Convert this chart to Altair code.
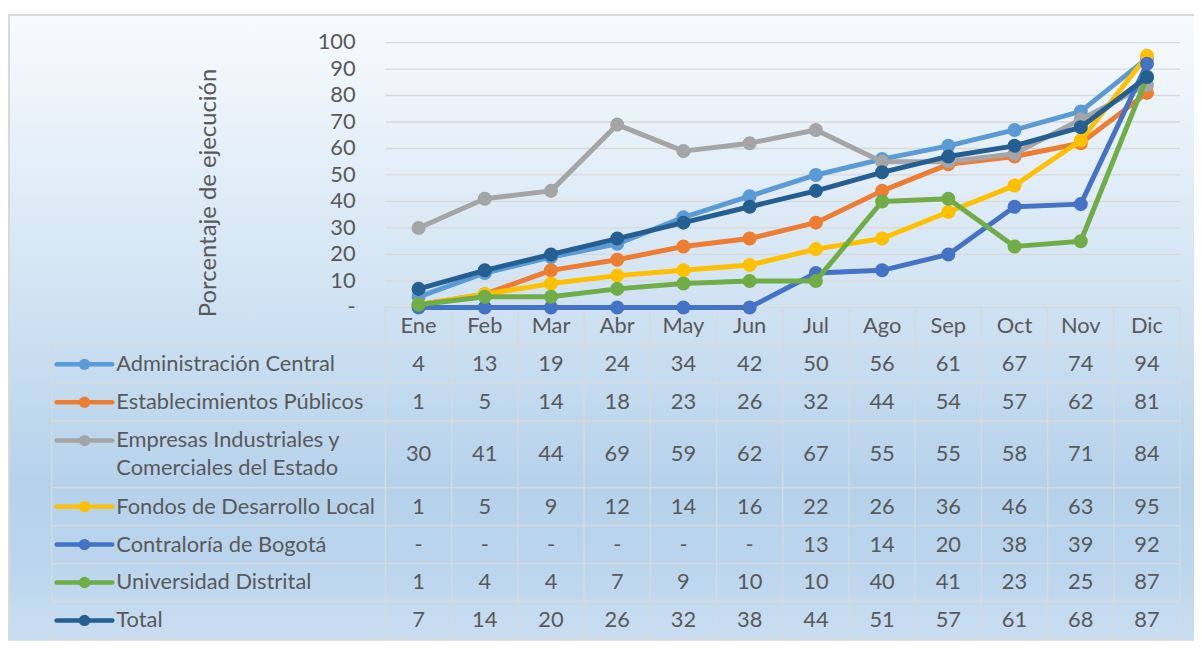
import altair as alt
import pandas as pd

# ---------------- data ----------------
months = ["Ene", "Feb", "Mar", "Abr", "May", "Jun", "Jul", "Ago", "Sep", "Oct", "Nov", "Dic"]
series_names = [
    "Administración Central",
    "Establecimientos Públicos",
    "Empresas Industriales y Comerciales del Estado",
    "Fondos de Desarrollo Local",
    "Contraloría de Bogotá",
    "Universidad Distrital",
    "Total",
]
legend_lines = [
    ["Administración Central"],
    ["Establecimientos Públicos"],
    ["Empresas Industriales y", "Comerciales del Estado"],
    ["Fondos de Desarrollo Local"],
    ["Contraloría de Bogotá"],
    ["Universidad Distrital"],
    ["Total"],
]
admin = [4, 13, 19, 24, 34, 42, 50, 56, 61, 67, 74, 94]
estab = [1, 5, 14, 18, 23, 26, 32, 44, 54, 57, 62, 81]
empresas = [30, 41, 44, 69, 59, 62, 67, 55, 55, 58, 71, 84]
fondos = [1, 5, 9, 12, 14, 16, 22, 26, 36, 46, 63, 95]
contraloria = [0, 0, 0, 0, 0, 0, 13, 14, 20, 38, 39, 92]
universidad = [1, 4, 4, 7, 9, 10, 10, 40, 41, 23, 25, 87]
total = [7, 14, 20, 26, 32, 38, 44, 51, 57, 61, 68, 87]
values = [admin, estab, empresas, fondos, contraloria, universidad, total]
series_colors = ["#5B9BD5", "#ED7D31", "#A5A5A5", "#FFC000", "#4472C4", "#70AD47", "#255E91"]
y_ticks = list(range(0, 101, 10))
y_tick_labels = ["-" if t == 0 else str(t) for t in y_ticks]
axis_title = "Porcentaje de ejecución"

# ---------------- layout (pixels) ----------------
W, H = 1194, 630
PLOT_L, PLOT_T = 8, 12
COL_PX = 800 / 12
X0 = 388.0          # left edge of the first month column
Y0 = 307.3          # pixel row of value 0
PPV = 2.6667        # pixels per percentage point
ROW_PX = 38.2
TALL = 1.75
LINE_H = 28
TABLE_L = 52
SYM_A, SYM_B, SYM_DOT, TXT_X = 57, 113, 85, 117
TICK_X = 358
TITLE_X, TITLE_Y = 210, 192
FONT = "Lato"
FS = 22
TEXT_C = "#595959"
GRID_C = "#D9D9D9"


def xu(px):
    return (px - X0) / COL_PX


def yv(px):
    return (Y0 - px) / PPV


xlo, xhi = xu(PLOT_L), xu(PLOT_L + W)
vhi, vlo = yv(PLOT_T), yv(PLOT_T + H)
XS = alt.Scale(domain=[xlo, xhi], nice=False, zero=False)
YS = alt.Scale(domain=[vlo, vhi], nice=False, zero=False)


def X(f="x"):
    return alt.X(f"{f}:Q", scale=XS, axis=None)


def Y(f="y"):
    return alt.Y(f"{f}:Q", scale=YS, axis=None)


# row geometry
bounds = [Y0, Y0 + ROW_PX]
for lines in legend_lines:
    bounds.append(bounds[-1] + ROW_PX * (TALL if len(lines) > 1 else 1))
bottom = bounds[-1]

# ---------------- background ----------------
bg_df = pd.DataFrame({"x": [xlo], "x2": [xhi], "y": [vlo], "y2": [vhi]})
bg = alt.Chart(bg_df).mark_rect(
    fill=alt.Gradient(
        gradient="linear",
        stops=[
            alt.GradientStop(offset=0.0, color="#F8FBFE"),
            alt.GradientStop(offset=0.45, color="#D1E3F3"),
            alt.GradientStop(offset=0.75, color="#B6D2EB"),
            alt.GradientStop(offset=0.88, color="#BAD5ED"),
            alt.GradientStop(offset=1.0, color="#CADEF2"),
        ],
        x1=0, x2=0, y1=0, y2=1,
    )
).encode(x=X(), x2="x2:Q", y=Y(), y2="y2:Q")

frame_df = pd.DataFrame({"x": [xlo], "x2": [xhi], "y": [yv(PLOT_T + 1)]})
frame_top = alt.Chart(frame_df).mark_rule(color="#D9D9D9", strokeWidth=2).encode(
    x=X(), x2="x2:Q", y=Y())
frame_l_df = pd.DataFrame({"x": [xu(PLOT_L + 1)], "y": [vlo], "y2": [vhi]})
frame_left = alt.Chart(frame_l_df).mark_rule(color="#D9D9D9", strokeWidth=2).encode(
    x=X(), y=Y(), y2="y2:Q")

# ---------------- gridlines + y axis labels ----------------
grid_df = pd.DataFrame({"y": y_ticks[1:], "x": [0.0] * 10, "x2": [12.0] * 10})
grid = alt.Chart(grid_df).mark_rule(color=GRID_C, strokeWidth=1.3).encode(
    x=X(), x2="x2:Q", y=Y())

tick_df = pd.DataFrame({"y": y_ticks, "t": y_tick_labels, "x": [xu(TICK_X)] * len(y_ticks)})
tick_labels = alt.Chart(tick_df).mark_text(
    font=FONT, fontSize=FS, color=TEXT_C, align="right", baseline="middle"
).encode(x=X(), y=Y(), text="t:N")

title_df = pd.DataFrame({"x": [xu(TITLE_X)], "y": [yv(TITLE_Y)], "t": [axis_title]})
y_title = alt.Chart(title_df).mark_text(
    font=FONT, fontSize=24, color=TEXT_C, align="center", baseline="middle", angle=270
).encode(x=X(), y=Y(), text="t:N")

# ---------------- table borders ----------------
h_rows = [{"x": 0.0, "x2": 12.0, "y": yv(Y0)}]
for b in bounds[1:]:
    h_rows.append({"x": xu(TABLE_L), "x2": 12.0, "y": yv(b)})
hlines = alt.Chart(pd.DataFrame(h_rows)).mark_rule(color=GRID_C, strokeWidth=1.3).encode(
    x=X(), x2="x2:Q", y=Y())
v_rows = [{"x": float(i), "y": yv(Y0), "y2": yv(bottom)} for i in range(13)]
v_rows.append({"x": xu(TABLE_L), "y": yv(bounds[1]), "y2": yv(bottom)})
vlines = alt.Chart(pd.DataFrame(v_rows)).mark_rule(color=GRID_C, strokeWidth=1.3).encode(
    x=X(), y=Y(), y2="y2:Q")

# ---------------- header + cells ----------------
head_df = pd.DataFrame({
    "x": [i + 0.5 for i in range(12)],
    "y": [yv((bounds[0] + bounds[1]) / 2)] * 12,
    "t": months,
})
header = alt.Chart(head_df).mark_text(
    font=FONT, fontSize=FS, color=TEXT_C, align="center", baseline="middle"
).encode(x=X(), y=Y(), text="t:N")

cell_rows, leg_rows, sym_rows = [], [], []
for si, name in enumerate(series_names):
    top, bot = bounds[si + 1], bounds[si + 2]
    cy = (top + bot) / 2
    nl = len(legend_lines[si])
    sy = cy - (nl - 1) * LINE_H / 2
    for mi, m in enumerate(months):
        v = values[si][mi]
        cell_rows.append({"x": mi + 0.5, "y": yv(cy), "t": "-" if v == 0 else str(v)})
    leg_rows.append({"x": xu(TXT_X), "y": yv(sy), "t": legend_lines[si]})
    sym_rows.append({"x": xu(SYM_A), "x2": xu(SYM_B), "xd": xu(SYM_DOT), "y": yv(sy),
                     "s": name})

cells = alt.Chart(pd.DataFrame(cell_rows)).mark_text(
    font=FONT, fontSize=FS, color=TEXT_C, align="center", baseline="middle"
).encode(x=X(), y=Y(), text="t:N")
legend_text = alt.Chart(pd.DataFrame(leg_rows)).mark_text(
    font=FONT, fontSize=FS, color=TEXT_C, align="left", baseline="middle", lineHeight=LINE_H
).encode(x=X(), y=Y(), text="t")

sym_df = pd.DataFrame(sym_rows)
cscale = alt.Scale(domain=series_names, range=series_colors)
sym_line = alt.Chart(sym_df).mark_rule(strokeWidth=4.5, strokeCap="round").encode(
    x=X(), x2="x2:Q", y=Y(), color=alt.Color("s:N", scale=cscale, legend=None))
sym_dot = alt.Chart(sym_df).mark_circle(size=130, opacity=1).encode(
    x=X("xd"), y=Y(), color=alt.Color("s:N", scale=cscale, legend=None))

# ---------------- series ----------------
series_layers = []
for si, name in enumerate(series_names):
    df = pd.DataFrame({"x": [i + 0.5 for i in range(12)], "y": values[si], "m": months})
    base = alt.Chart(df)
    series_layers.append(
        base.mark_line(color=series_colors[si], strokeWidth=5, strokeJoin="round").encode(
            x=X(), y=Y(), order="x:Q"))
    series_layers.append(
        base.mark_circle(color=series_colors[si], size=200, opacity=1).encode(x=X(), y=Y()))

chart = alt.layer(
    bg, grid, tick_labels, y_title, hlines, vlines, header, cells, legend_text,
    sym_line, sym_dot, *series_layers, frame_top, frame_left,
).properties(
    width=W, height=H,
    autosize="none",
    padding={"left": 0, "top": PLOT_T - 8, "right": 0, "bottom": 0},
).configure_view(stroke=None).configure(background="#FFFFFF")

chart.save("out.html", embed_options={"renderer": "svg", "actions": False})
